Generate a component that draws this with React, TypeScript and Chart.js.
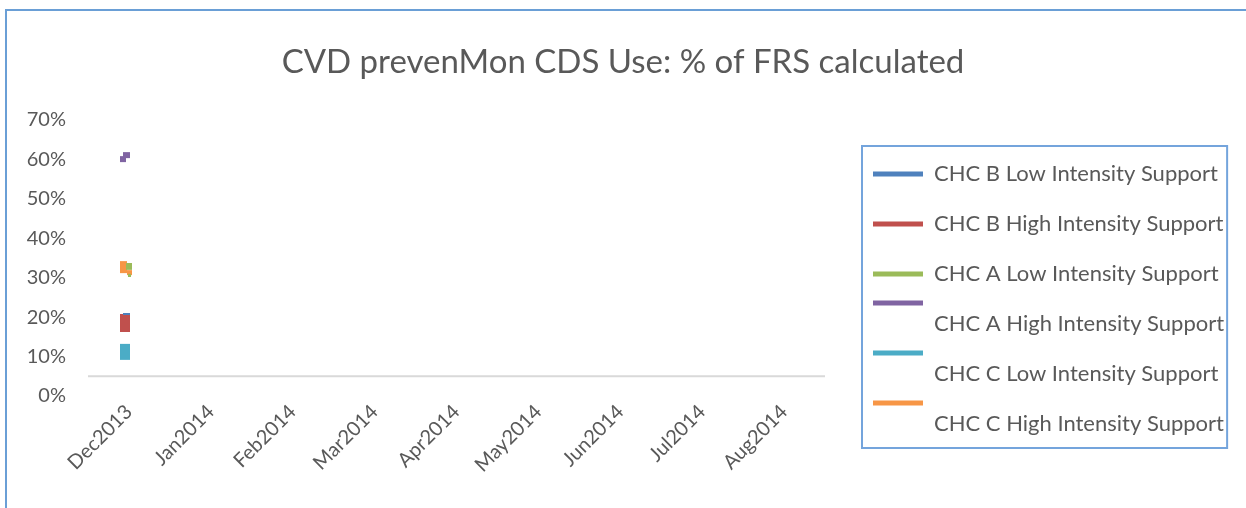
import React, { useEffect, useRef } from 'react';
import { Chart, registerables } from 'chart.js';

Chart.register(...registerables);

// ---------- data ----------
const TITLE = 'CVD prevenMon CDS Use: % of FRS calculated';
const MONTHS = ['Dec2013', 'Jan2014', 'Feb2014', 'Mar2014', 'Apr2014', 'May2014', 'Jun2014', 'Jul2014', 'Aug2014'];
const SERIES_NAMES = [
  'CHC B Low Intensity Support',
  'CHC B High Intensity Support',
  'CHC A Low Intensity Support',
  'CHC A High Intensity Support',
  'CHC C Low Intensity Support',
  'CHC C High Intensity Support',
];
const CHC_B_LOW = [0.208, null, null, null, null, null, null, null, null];
const CHC_B_HIGH = [0.185, null, null, null, null, null, null, null, null];
const CHC_A_LOW = [0.32, null, null, null, null, null, null, null, null];
const CHC_A_HIGH = [0.606, null, null, null, null, null, null, null, null];
const CHC_C_LOW = [0.112, null, null, null, null, null, null, null, null];
const CHC_C_HIGH = [0.327, null, null, null, null, null, null, null, null];
const SERIES_VALUES = [CHC_B_LOW, CHC_B_HIGH, CHC_A_LOW, CHC_A_HIGH, CHC_C_LOW, CHC_C_HIGH];
const Y_MIN = 0;
const Y_MAX = 0.7;
const Y_STEP = 0.1;
const BASELINE_VALUE = 0.05;

// ---------- styles ----------
const W = 1246;
const H = 508;
const TEXT_COLOR = '#595959';
const FONT = 'Lato';
const COLORS = ['#4f81bd', '#c0504d', '#9bbb59', '#8064a2', '#4bacc6', '#f79646'];
// legend row layout: text after swatch line, single, or text on next line
const LEGEND_WRAP = ['after', 'after', 'single', 'before', 'before', 'before'];
// marker blobs [dx, dy, w, h] relative to the point
const MARKER_SHAPES: number[][][] = [
  [[-6, -1, 7, 2]],
  [[-9, -9, 10, 18]],
  [[-3, -7, 6, 7], [-1, 4, 3, 3]],
  [[-9, -1, 6, 6], [-6, -5, 7, 6]],
  [[-9, -8, 10, 16]],
  [[-9, -6, 7, 12], [-2, 3, 5, 5]],
];
const TITLE_SIZE = 33;
const LEGEND_FONT_SIZE = 22;
const LEGEND_LINE = 21;
const LEGEND_PAD = 8;
const LEGEND_LEFT = 865;
const PLOT_LEFT = 88;
const PLOT_RIGHT = 825;
const PLOT_TOP = 120;
const PLOT_BOTTOM = 396;
const TITLE_CENTER = 62;

function makeMarker(color: string, rects: number[][]) {
  let e = 1;
  rects.forEach(([x, y, w, h]) => {
    e = Math.max(e, Math.abs(x), Math.abs(y), Math.abs(x + w), Math.abs(y + h));
  });
  const c = document.createElement('canvas');
  c.width = e * 2;
  c.height = e * 2;
  const g = c.getContext('2d')!;
  g.fillStyle = color;
  rects.forEach(([x, y, w, h]) => g.fillRect(e + x, e + y, w, h));
  return c;
}

const baselinePlugin = {
  id: 'baseline',
  beforeDatasetsDraw(chart: any) {
    const { ctx, chartArea, scales } = chart;
    const y = scales.y.getPixelForValue(BASELINE_VALUE);
    ctx.save();
    ctx.strokeStyle = '#d9d9d9';
    ctx.lineWidth = 2;
    ctx.beginPath();
    ctx.moveTo(chartArea.left, y);
    ctx.lineTo(chartArea.right, y);
    ctx.stroke();
    ctx.restore();
  },
};

const legendBorderPlugin = {
  id: 'legendBorder',
  afterDraw(chart: any) {
    const lg = chart.legend;
    if (!lg || !lg.legendHitBoxes || !lg.legendHitBoxes.length) return;
    const hb = lg.legendHitBoxes;
    const first = hb[0];
    const last = hb[hb.length - 1];
    let right = 0;
    hb.forEach((b: any) => { right = Math.max(right, b.left + b.width); });
    const left = lg.left - 3;
    const top = first.top - 17;
    const bottom = last.top + last.height + 14;
    const { ctx } = chart;
    ctx.save();
    ctx.strokeStyle = '#74a4dc';
    ctx.lineWidth = 2;
    ctx.strokeRect(left, top, right + 3 - left, bottom - top);
    ctx.restore();
  },
};

export default function App() {
  const ref = useRef<HTMLCanvasElement>(null);

  useEffect(() => {
    const canvas = ref.current!;
    const mctx = canvas.getContext('2d')!;
    mctx.font = `${LEGEND_FONT_SIZE}px ${FONT}`;
    const maxW = Math.max(...SERIES_NAMES.map((n) => mctx.measureText(n).width));
    const legendWidth = LEGEND_PAD + 50 + LEGEND_FONT_SIZE / 2 + maxW + 10;
    const side = Math.min(20, Math.max(0, W - LEGEND_LEFT - legendWidth));
    const legendLeft = W - side - legendWidth;
    const titleLine = TITLE_SIZE * 1.2;
    const titleTop = TITLE_CENTER - titleLine / 2;
    const legendTitleTop = 174 - LEGEND_FONT_SIZE / 2 - LEGEND_PAD - 10;

    Chart.defaults.font.family = FONT;
    Chart.defaults.color = TEXT_COLOR;

    const chart = new Chart(canvas, {
      type: 'line',
      data: {
        labels: MONTHS,
        datasets: SERIES_NAMES.map((name, i) => ({
          label: name,
          data: SERIES_VALUES[i],
          borderColor: COLORS[i],
          backgroundColor: COLORS[i],
          borderWidth: 3,
          showLine: false,
          pointStyle: makeMarker(COLORS[i], MARKER_SHAPES[i]) as any,
          pointRadius: 5,
          pointHoverRadius: 5,
        })),
      },
      plugins: [baselinePlugin, legendBorderPlugin],
      options: {
        animation: false,
        responsive: false,
        events: [],
        layout: { padding: { left: side, right: side, top: 0, bottom: 0 } },
        plugins: {
          tooltip: { enabled: false },
          title: {
            display: true,
            text: TITLE,
            color: TEXT_COLOR,
            font: { family: FONT, size: TITLE_SIZE, weight: 'normal', lineHeight: 1.2 },
            padding: { top: titleTop, bottom: PLOT_TOP - titleTop - titleLine },
          },
          legend: {
            display: true,
            position: 'right',
            align: 'start',
            maxWidth: 500,
            title: { display: true, text: ' ', font: { size: 10, lineHeight: 1 }, padding: { top: legendTitleTop, bottom: 0 } },
            labels: {
              boxWidth: 50,
              boxHeight: 5,
              padding: LEGEND_PAD,
              color: TEXT_COLOR,
              font: { family: FONT, size: LEGEND_FONT_SIZE, lineHeight: LEGEND_LINE / LEGEND_FONT_SIZE },
              generateLabels: (ch: any) =>
                ch.data.datasets.map((ds: any, i: number) => {
                  const wrap = LEGEND_WRAP[i];
                  const text = wrap === 'after' ? [ds.label, ''] : wrap === 'before' ? ['', ds.label] : [ds.label];
                  return {
                    text,
                    fillStyle: ds.borderColor,
                    strokeStyle: ds.borderColor,
                    lineWidth: 0,
                    hidden: false,
                    datasetIndex: i,
                    fontColor: TEXT_COLOR,
                  };
                }),
            },
          },
        },
        scales: {
          x: {
            type: 'category',
            offset: true,
            grid: { display: false, drawTicks: false },
            border: { display: false },
            ticks: {
              minRotation: 45,
              maxRotation: 45,
              autoSkip: false,
              padding: 4,
              color: TEXT_COLOR,
              font: { family: FONT, size: 20 },
            },
            afterFit: (s: any) => { s.height = H - PLOT_BOTTOM; },
          },
          y: {
            type: 'linear',
            position: 'left',
            min: Y_MIN,
            max: Y_MAX,
            grid: { display: false, drawTicks: false },
            border: { display: false },
            ticks: {
              stepSize: Y_STEP,
              padding: 22,
              color: TEXT_COLOR,
              font: { family: FONT, size: 20 },
              callback: (v: any) => `${Math.round(Number(v) * 100)}%`,
            },
            afterFit: (s: any) => { s.width = PLOT_LEFT - side; },
          },
          yR: {
            type: 'linear',
            position: 'right',
            display: true,
            grid: { display: false, drawTicks: false },
            border: { display: false },
            ticks: { display: false },
            afterFit: (s: any) => { s.width = legendLeft - PLOT_RIGHT; },
          },
        },
      } as any,
    });
    return () => chart.destroy();
  }, []);

  return (
    <div style={{ position: 'absolute', left: 0, top: 0, width: W, height: H, overflow: 'hidden', background: '#ffffff' }}>
      <div
        style={{
          position: 'absolute',
          left: 5,
          top: 9,
          width: W + 40,
          height: H + 40,
          border: '2px solid #6a9fd6',
          boxSizing: 'border-box',
        }}
      />
      <canvas ref={ref} width={W} height={H} style={{ position: 'absolute', left: 0, top: 0, width: W, height: H }} />
    </div>
  );
}
